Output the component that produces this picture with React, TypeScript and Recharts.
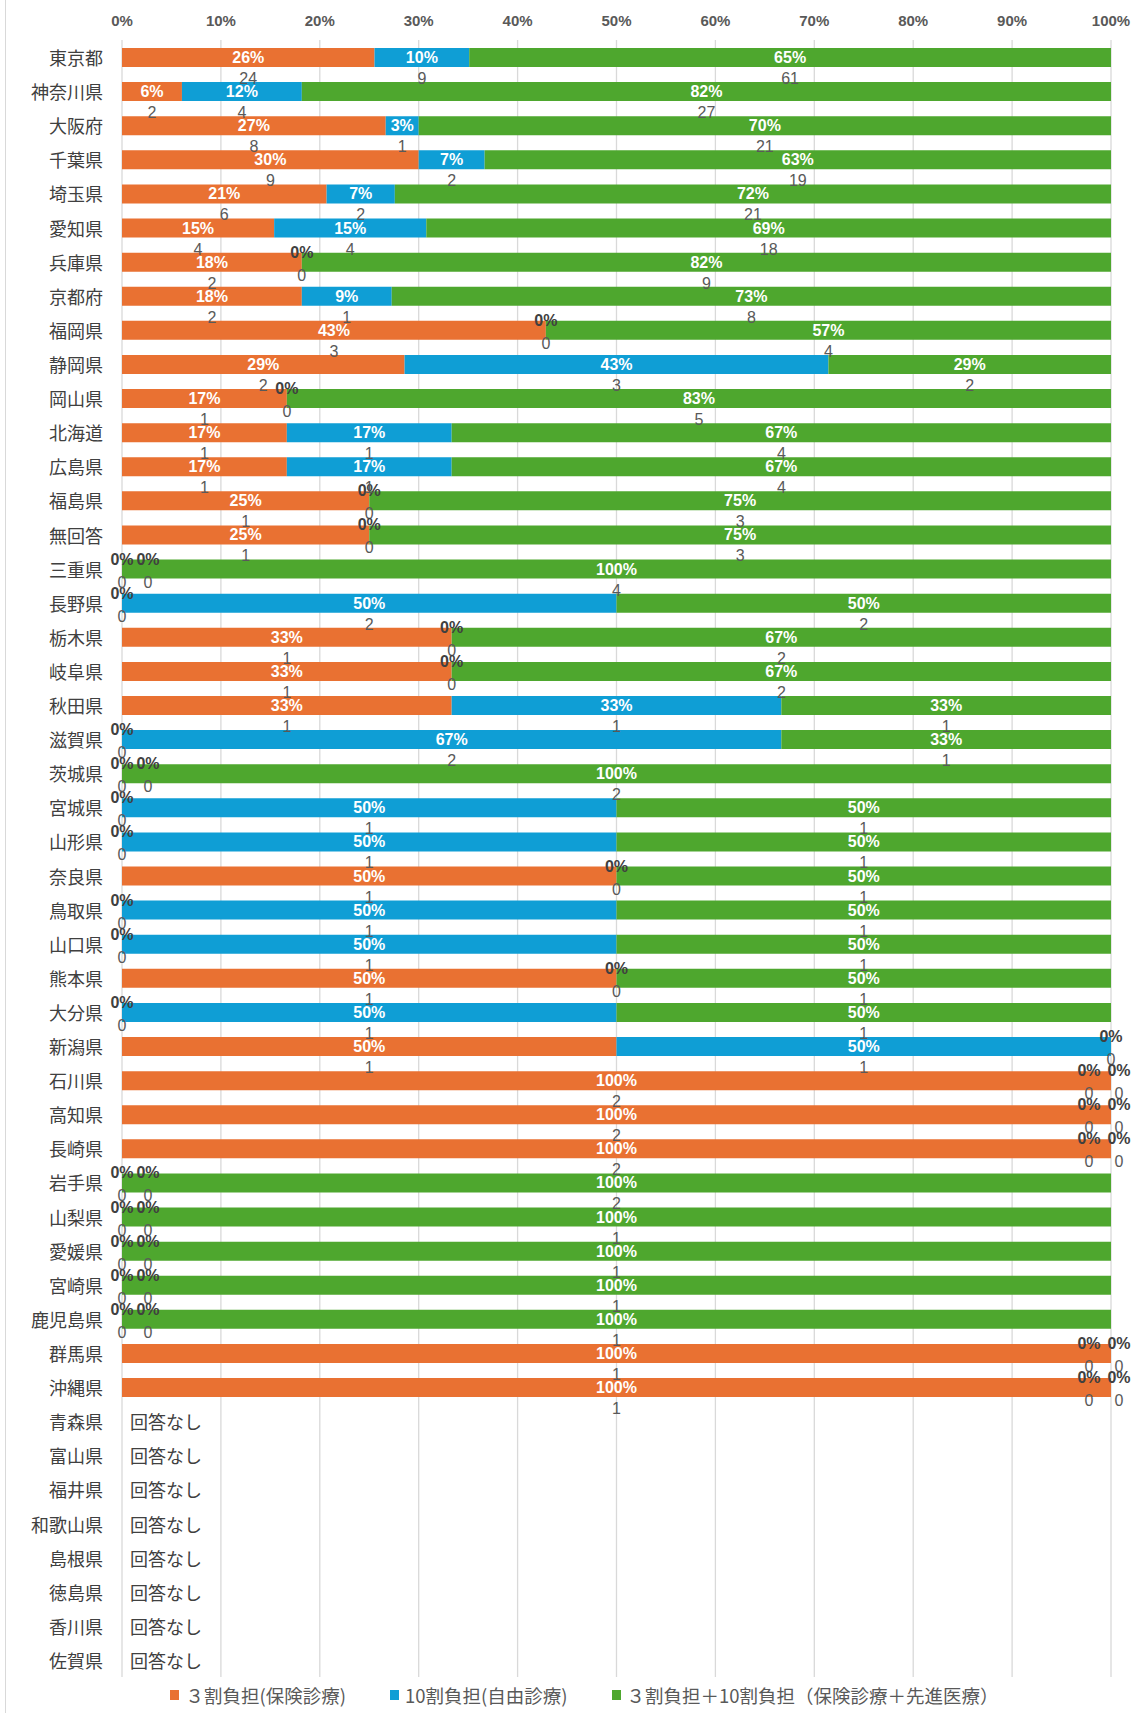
import React from "react";
import {
  BarChart,
  Bar,
  XAxis,
  YAxis,
  CartesianGrid,
  LabelList,
  Legend,
} from "recharts";

// prefectures in the order of the chart (top to bottom)
const prefectures = [
  "東京都", "神奈川県", "大阪府", "千葉県", "埼玉県", "愛知県", "兵庫県", "京都府",
  "福岡県", "静岡県", "岡山県", "北海道", "広島県", "福島県", "無回答", "三重県",
  "長野県", "栃木県", "岐阜県", "秋田県", "滋賀県", "茨城県", "宮城県", "山形県",
  "奈良県", "鳥取県", "山口県", "熊本県", "大分県", "新潟県", "石川県", "高知県",
  "長崎県", "岩手県", "山梨県", "愛媛県", "宮崎県", "鹿児島県", "群馬県", "沖縄県",
];
const noAnswer = ["青森県", "富山県", "福井県", "和歌山県", "島根県", "徳島県", "香川県", "佐賀県"];

// counts (number of answers)
const insuredCounts = [
  24, 2, 8, 9, 6, 4, 2, 2, 3, 2, 1, 1, 1, 1, 1, 0, 0, 1, 1, 1,
  0, 0, 0, 0, 1, 0, 0, 1, 0, 1, 2, 2, 2, 0, 0, 0, 0, 0, 1, 1,
];
const selfPayCounts = [
  9, 4, 1, 2, 2, 4, 0, 1, 0, 3, 0, 1, 1, 0, 0, 0, 2, 0, 0, 1,
  2, 0, 1, 1, 0, 1, 1, 0, 1, 1, 0, 0, 0, 0, 0, 0, 0, 0, 0, 0,
];
const combinedCounts = [
  61, 27, 21, 19, 21, 18, 9, 8, 4, 2, 5, 4, 4, 3, 3, 4, 2, 2, 2, 1,
  1, 2, 1, 1, 1, 1, 1, 1, 1, 0, 0, 0, 0, 2, 1, 1, 1, 1, 0, 0,
];

const seriesNames = [
  "３割負担(保険診療)",
  "10割負担(自由診療)",
  "３割負担＋10割負担（保険診療＋先進医療）",
];
const colors = ["#E97132", "#0F9ED5", "#4EA72E"];
const xTicks = [0, 0.1, 0.2, 0.3, 0.4, 0.5, 0.6, 0.7, 0.8, 0.9, 1];

const data = [
  ...prefectures.map((name, i) => {
    const c = [insuredCounts[i], selfPayCounts[i], combinedCounts[i]];
    const total = c[0] + c[1] + c[2];
    return {
      name,
      c,
      p0: c[0] / total,
      p1: c[1] / total,
      p2: c[2] / total,
    };
  }),
  ...noAnswer.map((name) => ({ name, c: null as number[] | null, p0: null, p1: null, p2: null })),
];
const rowByName = new Map(data.map((d) => [d.name, d]));

const NUM_FONT = "'Liberation Sans', Arial, sans-serif";
const JP_FONT = "'Noto Sans CJK JP', sans-serif";

// offsets Excel used to separate "0%" labels that sit on the same spot
const zeroShift = (c: number[], z: number) => {
  if (z === 1 && c[0] === 0) return 26;
  if (z === 1 && c[2] === 0) return -22;
  if (z === 2 && c[1] === 0) return 8;
  return 0;
};

const makeLabel = (s: number) => (props: any) => {
  const { x, y, width, height, value } = props;
  const row = rowByName.get(value) ?? rowByName.get(props?.payload?.name);
  if (!row || !row.c) return null;
  const c = row.c;
  const total = c[0] + c[1] + c[2];
  const p = c.map((v) => v / total);
  const cum = [0, p[0], p[0] + p[1], 1];
  const bx0 = Number(x);
  const bw = Number(width);
  const cy = Number(y) + Number(height) / 2;
  if (!(p[s] > 0)) return null;
  const ppu = bw / p[s];
  const left = bx0 - cum[s] * ppu;
  const mx = bx0 + bw / 2;

  // zero segments have no rectangle, so the first visible segment draws their labels
  const zeroLabels: React.ReactNode[] = [];
  const firstNZ = c.findIndex((v) => v > 0);
  if (s === firstNZ) {
    c.forEach((v, z) => {
      if (v !== 0) return;
      const zx = left + cum[z] * ppu + zeroShift(c, z);
      zeroLabels.push(
        <g key={z}>
          <text x={zx} y={cy - 10} textAnchor="middle" dominantBaseline="central"
            fill="#404040" fontSize={16} fontWeight="bold" fontFamily={NUM_FONT}>
            0%
          </text>
          <text x={zx} y={cy + 13} textAnchor="middle" dominantBaseline="central"
            fill="#595959" fontSize={16} fontFamily={NUM_FONT}>
            0
          </text>
        </g>
      );
    });
  }

  return (
    <g>
      <text x={mx} y={cy} textAnchor="middle" dominantBaseline="central"
        fill="#ffffff" fontSize={16} fontWeight="bold" fontFamily={NUM_FONT}>
        {Math.round(p[s] * 100) + "%"}
      </text>
      <text x={mx} y={cy + 21} textAnchor="middle" dominantBaseline="central"
        fill="#595959" fontSize={16} fontFamily={NUM_FONT}>
        {c[s]}
      </text>
      {zeroLabels}
    </g>
  );
};

const CategoryTick = (props: any) => {
  const { x, y, payload } = props;
  const none = noAnswer.includes(payload.value);
  return (
    <g>
      <text x={x} y={y} textAnchor="end" dominantBaseline="central"
        fill="#404040" fontSize={18} fontFamily={JP_FONT}>
        {payload.value}
      </text>
      {none && (
        <text x={x + 27} y={y} textAnchor="start" dominantBaseline="central"
          fill="#404040" fontSize={18} fontFamily={JP_FONT}>
          回答なし
        </text>
      )}
    </g>
  );
};

const renderLegend = () => (
  <div
    style={{
      display: "flex",
      justifyContent: "center",
      alignItems: "center",
      height: 36,
      gap: 44,
      paddingLeft: 58,
      fontFamily: JP_FONT,
      fontSize: 18.5,
      color: "#595959",
    }}
  >
    {seriesNames.map((n, i) => (
      <div key={n} style={{ display: "flex", alignItems: "center" }}>
        <span style={{ width: 9, height: 10, background: colors[i], marginRight: 6, display: "inline-block" }} />
        <span>{n}</span>
      </div>
    ))}
  </div>
);

export default function App() {
  return (
    <div style={{ position: "absolute", left: 0, top: 0, width: 1141, height: 1713, background: "#fff" }}>
      <div style={{ position: "absolute", left: 5, top: 0, width: 0, height: 1713, borderLeft: "1px solid #d9d9d9" }} />
      <BarChart
        width={1141}
        height={1713}
        data={data}
        layout="vertical"
        margin={{ top: 0, right: 30, bottom: 0, left: 0 }}
        barSize={19}
      >
        <CartesianGrid horizontal={false} stroke="#d9d9d9" strokeWidth={1.3} />
        <XAxis
          type="number"
          orientation="top"
          domain={[0, 1]}
          ticks={xTicks}
          tickFormatter={(v: number) => Math.round(v * 100) + "%"}
          axisLine={false}
          tickLine={false}
          tickSize={0}
          tickMargin={14}
          height={40}
          tick={{ fill: "#595959", fontSize: 15, fontWeight: "bold", fontFamily: NUM_FONT }}
        />
        <YAxis
          type="category"
          dataKey="name"
          width={122}
          interval={0}
          axisLine={false}
          tickLine={false}
          tickSize={0}
          tickMargin={19}
          tick={<CategoryTick />}
        />
        <Legend verticalAlign="bottom" height={36} content={renderLegend} />
        {["p0", "p1", "p2"].map((k, i) => (
          <Bar key={k} dataKey={k} stackId="a" fill={colors[i]} name={seriesNames[i]} isAnimationActive={false}>
            <LabelList dataKey="name" content={makeLabel(i)} />
          </Bar>
        ))}
      </BarChart>
    </div>
  );
}
